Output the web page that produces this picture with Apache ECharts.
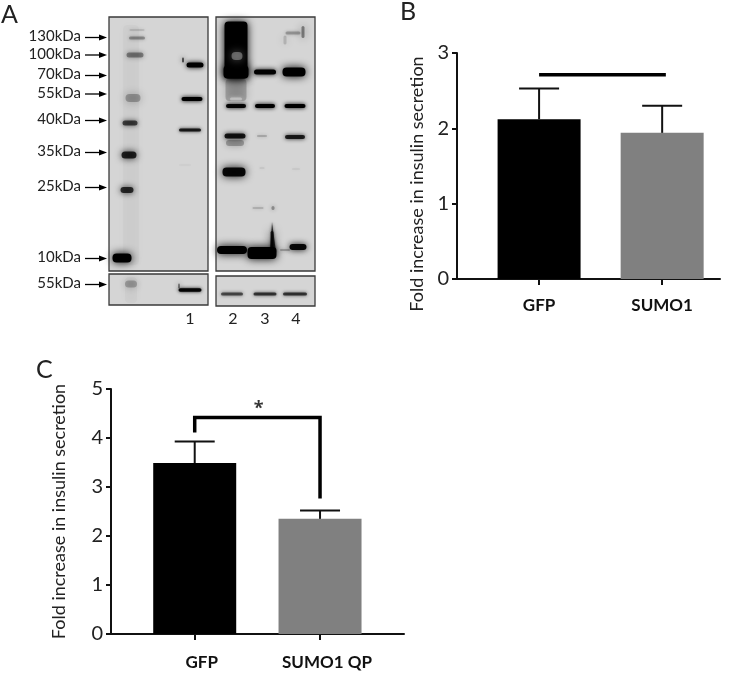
<!DOCTYPE html>
<html><head><meta charset="utf-8">
<style>html,body{margin:0;padding:0;background:#fff}#c{width:748px;height:673px}</style>
<script src="https://cdn.jsdelivr.net/npm/echarts@6/dist/echarts.min.js"></script>
</head><body><div id="c"></div>
<script>
// Panel B and C values
const catsB = ['GFP', 'SUMO1'];
const meansB = [2.12, 1.94];
const upperB = [2.53, 2.30];
const lineB = [[1, 2.71], [2.03, 2.71]];
const catsC = ['GFP', 'SUMO1 QP'];
const meansC = [3.49, 2.35];
const upperC = [3.93, 2.52];
const bracketC = [[1, 4.15], [1, 4.42], [2, 4.42], [2, 2.80]];
const starC = [[1.51, 4.6]];
const ticksY = 'Fold increase in insulin secretion';

// Panel A: blot read in gel units. [x centre, y centre, width, height, intensity]
const blotPanels = [[109, 17, 99, 254], [216, 17, 99, 254], [109, 274, 99, 31], [216, 276, 99, 30]];
const ladderBands = [
  [131, 145, 16, 240, 0.02], [131, 290, 12, 26, 0.025],
  [137, 30, 15, 2, 0.1], [137, 38, 16, 3, 0.28], [135, 55, 17, 5, 0.36], [133, 98, 15, 8, 0.25],
  [130, 123, 15, 5, 0.62], [129, 155, 15, 7, 0.8], [127, 190, 13, 6, 0.75], [122, 258, 19, 9, 1],
  [131, 284, 12, 7, 0.22]
];
const lane1Bands = [
  [195, 65, 17, 5, 1], [183, 60, 2, 5, 0.6], [192, 99, 21, 4, 1], [190, 130, 22, 3, 0.8],
  [190, 290, 23, 3.5, 0.95], [179, 286, 2, 5, 0.4], [185, 165, 12, 1, 0.04]
];
const lane2Bands = [
  [236, 50, 23, 57, 1], [236, 72, 25, 13, 1], [237, 56, 11, 8, -0.4],
  [236, 90, 21, 22, 0.2], [236, 99, 12, 3, -0.6],
  [236, 106, 20, 4, 0.95], [235, 136, 21, 5, 0.85], [235, 143, 18, 6, 0.25], [234, 172, 23, 9, 0.95],
  [232, 250, 30, 8, 1], [232, 294, 22, 3, 0.55]
];
const lane3Bands = [
  [265, 72, 22, 5, 1], [265, 106, 20, 4, 1], [262, 136, 10, 1.5, 0.22], [262, 168, 5, 1, 0.1],
  [258, 208, 11, 1.5, 0.18], [273, 208, 3, 4, 0.3], [262, 253, 29, 12, 1], [272, 240, 3, 18, 0.7],
  [265, 294, 23, 3, 0.65]
];
const lane4Bands = [
  [294, 72, 23, 9, 1], [295, 106, 21, 4, 1], [295, 137, 20, 4, 0.8], [296, 169, 8, 1, 0.08],
  [303, 32, 3, 12, 0.4], [293, 33, 15, 3, 0.22], [285, 40, 3, 9, 0.15],
  [298, 247, 17, 6, 0.95], [285, 250, 10, 1.5, 0.28], [295, 294, 24, 3, 0.65]
];
const kdaLabels = ['130kDa', '100kDa', '70kDa', '55kDa', '40kDa', '35kDa', '25kDa', '10kDa', '55kDa'];
const kdaY = [37.5, 55, 75.5, 94, 120.5, 152.5, 187.5, 258.5, 284.5];
const laneLabels = [[190, '1'], [233, '2'], [265, '3'], [296, '4']];

const FONT = 'Lato, "Open Sans", sans-serif';
const INK = '#111';
const blotBands = [].concat(ladderBands, lane1Bands, lane2Bands, lane3Bands, lane4Bands);

function valueX(grid, min, max, cats, margin, pad) {
  return {
    type: 'value', gridIndex: grid, min, max, splitLine: { show: false },
    axisLine: { show: true, onZero: false, lineStyle: { color: INK, width: 2 } },
    axisTick: { show: true, length: 6, customValues: [1, 2], lineStyle: { color: INK, width: 2 } },
    axisLabel: { show: true, customValues: [1, 2], margin, padding: pad, fontFamily: FONT, fontSize: 17, fontWeight: 'bold', color: '#111',
      formatter: v => cats[v - 1] || '' }
  };
}
function valueY(grid, max, gap, pad) {
  return {
    type: 'value', gridIndex: grid, min: 0, max, interval: 1, splitLine: { show: false },
    name: ticksY, nameLocation: 'middle', nameGap: gap,
    nameTextStyle: { fontFamily: FONT, fontSize: 18, color: '#222', padding: pad },
    axisLine: { show: true, lineStyle: { color: INK, width: 2 } },
    axisTick: { show: true, length: 5, lineStyle: { color: INK, width: 2 } },
    axisLabel: { margin: 8, fontFamily: FONT, fontSize: 20, color: '#222' }
  };
}
function barSeries(grid, means, upper) {
  const d = means.map((v, i) => ({ value: [i + 1, v], itemStyle: { color: i ? '#808080' : '#000' } }));
  return [{
    type: 'bar', xAxisIndex: grid, yAxisIndex: grid, data: d, barWidth: 83, z: 2, silent: true
  }, {
    type: 'custom', xAxisIndex: grid, yAxisIndex: grid, z: 3, silent: true, clip: false,
    data: means.map((v, i) => [i + 1, v, upper[i]]),
    renderItem(p, api) {
      const a = api.coord([api.value(0), api.value(1)]), b = api.coord([api.value(0), api.value(2)]);
      const st = { stroke: INK, lineWidth: 2, fill: null };
      return { type: 'group', children: [
        { type: 'line', shape: { x1: a[0], y1: a[1], x2: b[0], y2: b[1] }, style: st },
        { type: 'line', shape: { x1: b[0] - 20, y1: b[1], x2: b[0] + 20, y2: b[1] }, style: st }
      ] };
    }
  }];
}
const option = {
  animation: false, backgroundColor: '#fff',
  title: [
    { text: 'A', left: -4, top: -3 }, { text: 'B', left: 395, top: -6 }, { text: 'C', left: 31, top: 352 }
  ].map(t => Object.assign(t, { textStyle: { fontFamily: FONT, fontSize: 25, fontWeight: 'normal', color: '#222' } })),
  grid: [
    { left: 0, top: 0, width: 330, height: 340 },
    { left: 457, top: 53, width: 263, height: 226 },
    { left: 111, top: 389, width: 293, height: 245 }
  ],
  xAxis: [
    { type: 'value', gridIndex: 0, min: 0, max: 330, show: false },
    valueX(1, 0.333, 2.47, catsB, 18, 0),
    valueX(2, 0.332, 2.67, catsC, 20, [0, 0, 0, 14])
  ],
  yAxis: [
    { type: 'value', gridIndex: 0, min: 0, max: 340, inverse: true, show: false },
    valueY(1, 3, 31, [0, 36, 0, 0]),
    valueY(2, 5, 43, 0)
  ],
  series: [
    { // gel panels
      type: 'custom', xAxisIndex: 0, yAxisIndex: 0, z: 1, silent: true, data: blotPanels,
      renderItem(p, api) {
        const a = api.coord([api.value(0), api.value(1)]);
        const s = api.size([api.value(2), api.value(3)]);
        return { type: 'rect', shape: { x: a[0], y: a[1], width: s[0], height: s[1] },
          style: { fill: '#d5d5d5', stroke: null } };
      }
    },
    { // bands
      type: 'custom', xAxisIndex: 0, yAxisIndex: 0, z: 2, silent: true, data: blotBands,
      renderItem(p, api) {
        const c = api.coord([api.value(0), api.value(1)]);
        const s = api.size([api.value(2), api.value(3)]);
        const k = api.value(4), col = k < 0 ? '#cfcfcf' : '#000';
        return { type: 'rect', shape: { x: c[0] - s[0] / 2, y: c[1] - s[1] / 2, width: s[0], height: s[1], r: Math.min(s[0] / 2, s[1] / 2, 4) },
          style: { fill: col, opacity: Math.abs(k), shadowBlur: Math.max(3.5, Math.min(s[1], 8)), shadowColor: col } };
      }
    },
    { // spike above the 10 kDa band of lane 3
      type: 'custom', xAxisIndex: 0, yAxisIndex: 0, z: 2, silent: true, data: [[270, 252, 272, 222, 276, 252]],
      renderItem(p, api) {
        const pts = [0, 2, 4].map(i => api.coord([api.value(i), api.value(i + 1)]));
        return { type: 'polygon', shape: { points: pts }, style: { fill: '#000', opacity: 0.7, shadowBlur: 3, shadowColor: '#000' } };
      }
    },
    { // gel frames
      type: 'custom', xAxisIndex: 0, yAxisIndex: 0, z: 4, silent: true, data: blotPanels,
      renderItem(p, api) {
        const a = api.coord([api.value(0), api.value(1)]);
        const s = api.size([api.value(2), api.value(3)]);
        return { type: 'rect', shape: { x: a[0], y: a[1], width: s[0], height: s[1] },
          style: { fill: null, stroke: '#3a3a3a', lineWidth: 1.3 } };
      }
    },
    { // size markers
      type: 'custom', xAxisIndex: 0, yAxisIndex: 0, z: 5, silent: true,
      data: kdaY.map((y, i) => [y, i]),
      renderItem(p, api) {
        const y = api.value(0), lab = kdaLabels[api.value(1)];
        const t = api.coord([81, y - 1]), a = api.coord([85, y]), b = api.coord([107, y]);
        return { type: 'group', children: [
          { type: 'text', style: { text: lab, x: t[0], y: t[1], align: 'right', verticalAlign: 'middle', fontFamily: FONT, fontSize: 15, fill: '#222' } },
          { type: 'line', shape: { x1: a[0], y1: a[1], x2: b[0] - 6, y2: b[1] }, style: { stroke: '#000', lineWidth: 1.3 } },
          { type: 'polygon', shape: { points: [[b[0], b[1]], [b[0] - 8, b[1] - 3], [b[0] - 8, b[1] + 3]] }, style: { fill: '#000' } }
        ] };
      }
    },
    { // lane numbers
      type: 'custom', xAxisIndex: 0, yAxisIndex: 0, z: 5, silent: true, data: laneLabels.map(l => [l[0], 319]),
      renderItem(p, api) {
        const c = api.coord([api.value(0), api.value(1)]);
        return { type: 'text', style: { text: laneLabels[p.dataIndex][1], x: c[0], y: c[1], align: 'center', verticalAlign: 'middle', fontFamily: FONT, fontSize: 16, fill: '#222' } };
      }
    },
    ...barSeries(1, meansB, upperB),
    { type: 'line', xAxisIndex: 1, yAxisIndex: 1, data: lineB, symbol: 'none', z: 4, silent: true, lineStyle: { color: '#000', width: 3.5 } },
    ...barSeries(2, meansC, upperC),
    { type: 'line', xAxisIndex: 2, yAxisIndex: 2, data: bracketC, symbol: 'none', z: 4, silent: true, lineStyle: { color: '#000', width: 3.5, join: 'miter', cap: 'square' } },
    { type: 'scatter', xAxisIndex: 2, yAxisIndex: 2, data: starC, symbolSize: 0, z: 4, silent: true,
      label: { show: true, position: 'inside', formatter: '*', fontFamily: '"Open Sans", sans-serif', fontSize: 18, fontWeight: 'bold', color: '#000' } }
  ]
};
const chart = echarts.init(document.getElementById('c'), null, { renderer: 'canvas' });
chart.setOption(option);
</script></body></html>
